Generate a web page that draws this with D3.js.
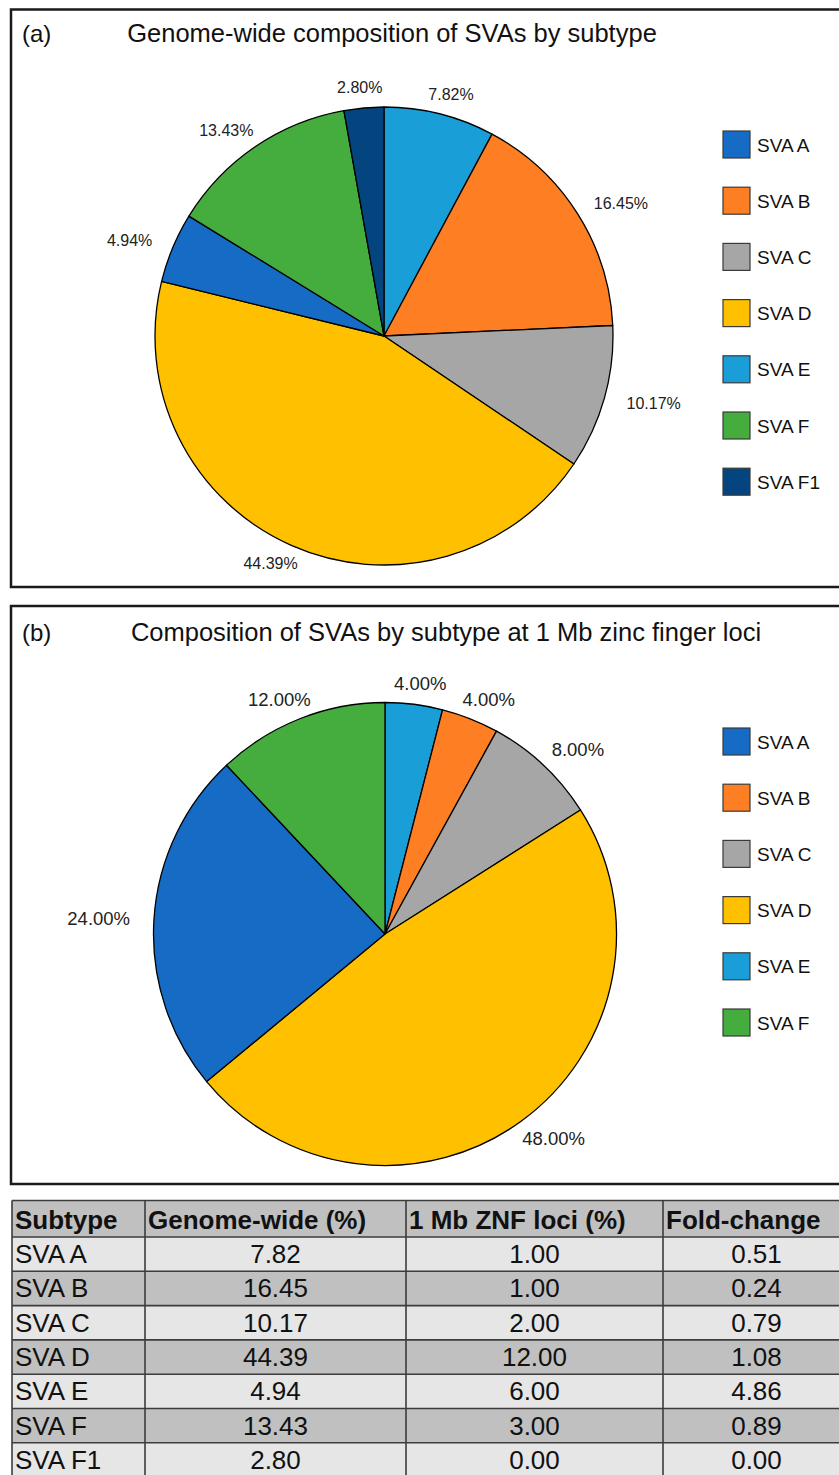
<!DOCTYPE html>
<html>
<head>
<meta charset="utf-8">
<script src="https://cdn.jsdelivr.net/npm/d3@7"></script>
<style>
  html, body { margin: 0; padding: 0; background: #fff; }
  svg { display: block; font-family: "Liberation Sans", Arial, Helvetica, sans-serif; }
</style>
</head>
<body>
<svg id="fig" width="839" height="1475"></svg>
<script>
// Subtypes and their legend colours
const subtypes = ["SVA A", "SVA B", "SVA C", "SVA D", "SVA E", "SVA F", "SVA F1"];
const subtypeColors = ["#166cc5", "#fd7e23", "#a6a6a6", "#ffc000", "#1a9ed8", "#45ad3e", "#05457f"];

// Panel (a): genome-wide composition, slices clockwise from 12 o'clock
const sliceKeysA = ["SVA E", "SVA B", "SVA C", "SVA D", "SVA A", "SVA F", "SVA F1"];
const sliceValuesA = [7.82, 16.45, 10.17, 44.39, 4.94, 13.43, 2.80];
const legendA = ["SVA A", "SVA B", "SVA C", "SVA D", "SVA E", "SVA F", "SVA F1"];

// Panel (b): composition at 1 Mb zinc finger loci
const sliceKeysB = ["SVA E", "SVA B", "SVA C", "SVA D", "SVA A", "SVA F"];
const sliceValuesB = [4.00, 4.00, 8.00, 48.00, 24.00, 12.00];
const legendB = ["SVA A", "SVA B", "SVA C", "SVA D", "SVA E", "SVA F"];

// Summary table
const tableHeaders = ["Subtype", "Genome-wide (%)", "1 Mb ZNF loci (%)", "Fold-change"];
const genomeWide = [7.82, 16.45, 10.17, 44.39, 4.94, 13.43, 2.80];
const znfLoci = [1.00, 1.00, 2.00, 12.00, 6.00, 3.00, 0.00];
const foldChange = [0.51, 0.24, 0.79, 1.08, 4.86, 0.89, 0.00];

const svg = d3.select("#fig");
const color = d3.scaleOrdinal().domain(subtypes).range(subtypeColors);

function panel(cfg) {
  const g = svg.append("g");
  // frame
  g.append("rect")
    .attr("x", cfg.box[0]).attr("y", cfg.box[1])
    .attr("width", cfg.box[2]).attr("height", cfg.box[3])
    .attr("fill", "none").attr("stroke", "#1a1a1a").attr("stroke-width", 2.5);
  g.append("text").attr("x", 22).attr("y", cfg.titleY)
    .attr("font-size", 24).attr("fill", "#111").text(cfg.tag);
  g.append("text").attr("x", cfg.titleX).attr("y", cfg.titleY)
    .attr("text-anchor", "middle").attr("font-size", cfg.titleSize).attr("fill", "#111").text(cfg.title);

  const pie = d3.pie().sort(null).value(d => d.v);
  const data = pie(cfg.keys.map((k, i) => ({ k, v: cfg.values[i] })));
  const arc = d3.arc().innerRadius(0).outerRadius(cfg.r);
  const pg = g.append("g").attr("transform", `translate(${cfg.cx},${cfg.cy})`);
  pg.selectAll("path").data(data).join("path")
    .attr("d", arc)
    .attr("fill", d => color(d.data.k))
    .attr("stroke", "#000").attr("stroke-width", 1.3).attr("stroke-linejoin", "round");

  // outside-end labels, offset from the rim by half the label box
  pg.selectAll("text").data(data).join("text")
    .attr("font-size", cfg.labelSize).attr("fill", "#222")
    .attr("text-anchor", "middle").attr("dominant-baseline", "central")
    .text(d => d.data.v.toFixed(2) + "%")
    .each(function (d) {
      const w = this.getComputedTextLength();
      const h = cfg.labelSize;
      const a = (d.startAngle + d.endAngle) / 2;
      const sx = Math.sin(a), sy = -Math.cos(a);
      const rr = cfg.r + 12;
      d3.select(this)
        .attr("x", rr * sx + (w / 2 + 12) * sx)
        .attr("y", rr * sy + (h / 2) * sy);
    });

  // legend
  const y = d3.scalePoint().domain(cfg.legend).range([cfg.legendTop, cfg.legendTop + 56.2 * (cfg.legend.length - 1)]);
  const item = g.append("g").selectAll("g").data(cfg.legend).join("g")
    .attr("transform", d => `translate(723,${y(d)})`);
  item.append("rect").attr("width", 27).attr("height", 27)
    .attr("fill", d => color(d)).attr("stroke", "#3a3a3a").attr("stroke-width", 1.2);
  item.append("text").attr("x", 34).attr("y", 14).attr("dominant-baseline", "central")
    .attr("font-size", 19).attr("fill", "#111").text(d => d);
}

panel({
  box: [11, 9.5, 840, 577.5], tag: "(a)", title: "Genome-wide composition of SVAs by subtype",
  titleX: 392, titleY: 42, titleSize: 25.5,
  keys: sliceKeysA, values: sliceValuesA, cx: 384, cy: 336, r: 229, labelSize: 16,
  legend: legendA, legendTop: 131
});

panel({
  box: [11, 606, 840, 578], tag: "(b)", title: "Composition of SVAs by subtype at 1 Mb zinc finger loci",
  titleX: 446, titleY: 641, titleSize: 25.5,
  keys: sliceKeysB, values: sliceValuesB, cx: 385, cy: 934, r: 231.5, labelSize: 18.5,
  legend: legendB, legendTop: 728
});

// ---- table ----
const colEdges = [12, 145, 406, 663, 850];
const headerTop = 1200.5, headerH = 36.5, rowH = 34.3;
const rowY = d3.scaleBand().domain(subtypes).range([headerTop + headerH, headerTop + headerH + rowH * subtypes.length]);
const tg = svg.append("g");

// header
tg.append("rect").attr("x", colEdges[0]).attr("y", headerTop)
  .attr("width", colEdges[4] - colEdges[0]).attr("height", headerH).attr("fill", "#c0c0c0");
tg.selectAll("text.head").data(tableHeaders).join("text").attr("class", "head")
  .attr("x", (d, i) => colEdges[i] + 3).attr("y", headerTop + headerH / 2 + 1)
  .attr("dominant-baseline", "central").attr("font-size", 26).attr("font-weight", "bold")
  .attr("fill", "#111").text(d => d);

// body rows
const rows = subtypes.map((s, i) => ({ s, vals: [genomeWide[i], znfLoci[i], foldChange[i]], i }));
const rg = tg.selectAll("g.row").data(rows).join("g").attr("class", "row")
  .attr("transform", d => `translate(0,${rowY(d.s)})`);
rg.append("rect").attr("x", colEdges[0]).attr("width", colEdges[4] - colEdges[0])
  .attr("height", rowY.bandwidth()).attr("fill", d => d.i % 2 === 0 ? "#e6e6e6" : "#c0c0c0");
rg.append("text").attr("x", colEdges[0] + 3).attr("y", rowY.bandwidth() / 2)
  .attr("dominant-baseline", "central").attr("font-size", 26).attr("fill", "#111").text(d => d.s);
rg.selectAll("text.num").data(d => d.vals).join("text").attr("class", "num")
  .attr("x", (v, j) => (colEdges[j + 1] + colEdges[j + 2]) / 2)
  .attr("y", rowY.bandwidth() / 2)
  .attr("text-anchor", "middle").attr("dominant-baseline", "central")
  .attr("font-size", 26).attr("fill", "#111").text(v => v.toFixed(2));

// grid lines
const hLines = [headerTop, headerTop + headerH].concat(subtypes.map(s => rowY(s) + rowY.bandwidth()));
tg.selectAll("line.h").data(hLines).join("line").attr("class", "h")
  .attr("x1", colEdges[0]).attr("x2", colEdges[4]).attr("y1", d => d).attr("y2", d => d)
  .attr("stroke", "#3c3c3c").attr("stroke-width", 1.6);
tg.selectAll("line.v").data(colEdges.slice(0, 4)).join("line").attr("class", "v")
  .attr("x1", d => d).attr("x2", d => d).attr("y1", headerTop).attr("y2", headerTop + headerH + rowH * subtypes.length)
  .attr("stroke", "#3c3c3c").attr("stroke-width", 1.6);
</script>
</body>
</html>
